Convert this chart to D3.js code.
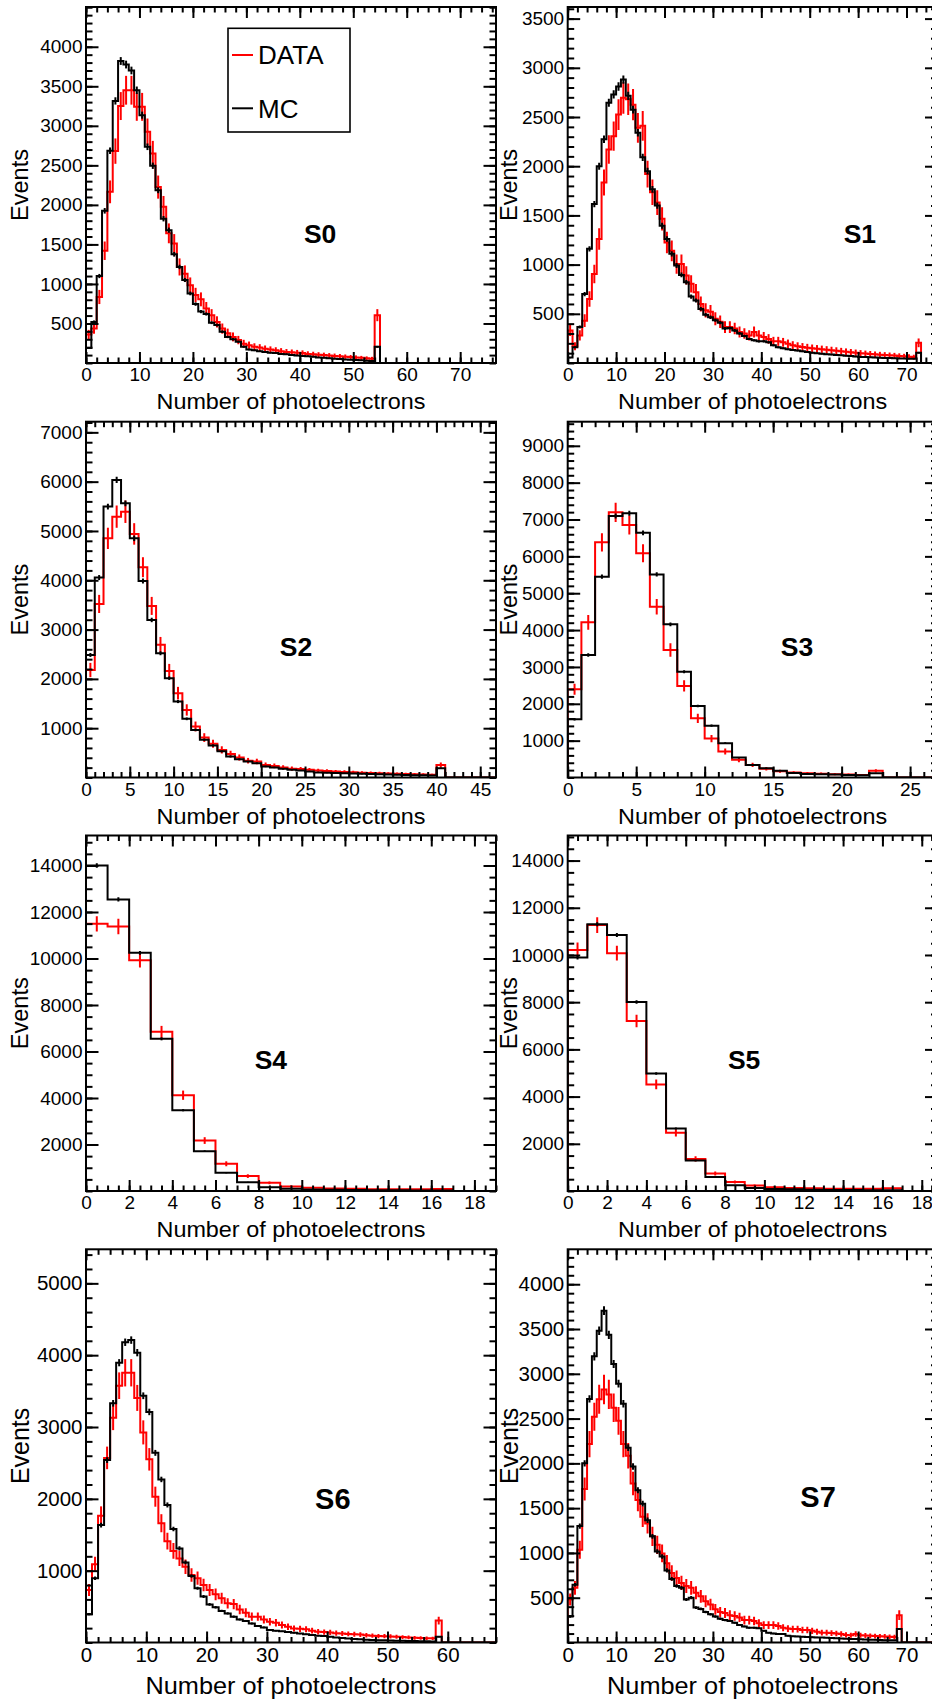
<!DOCTYPE html>
<html><head><meta charset="utf-8">
<script src="https://cdn.jsdelivr.net/npm/d3@7"></script>
<style>
body{margin:0;background:#fff}
svg{display:block}
text{font-family:"Liberation Sans",Arial,Helvetica,sans-serif;fill:#000}
</style>
</head><body>
<svg id="c" width="932" height="1702"></svg>
<script>
// ---------------- DATA (bin width 1 photoelectron, bins start at 0) ----------------
const panelNames = ["S0","S1","S2","S3","S4","S5","S6","S7"];

const dataS0 = [360,435,835,1420,2165,2680,3250,3450,3450,3240,3240,2925,2650,2225,1975,1640,1510,1215,1130,985,860,805,690,605,520,435,375,330,290,245,225,205,195,180,170,160,150,140,135,130,125,115,110,105,100,95,90,85,80,75,70,65,60,55,605];
const mcS0   = [190,520,1100,1925,2685,3315,3820,3775,3700,3450,3135,2735,2495,2185,1825,1680,1375,1215,1050,880,745,650,620,510,480,395,330,300,270,205,170,160,150,140,130,125,115,110,100,95,90,85,80,70,65,60,55,50,45,40,38,35,30,25,205];

const dataS1 = [330,170,280,430,650,905,1260,1835,2170,2305,2525,2695,2680,2625,2390,2410,1920,1735,1630,1465,1225,1140,1005,1005,890,805,720,600,535,520,450,420,365,365,350,315,300,280,315,280,265,245,220,220,210,195,180,170,163,156,150,145,140,135,130,125,120,115,110,105,100,96,92,88,85,82,79,76,72,68,64,60,205];
const mcS1   = [55,160,365,700,1160,1615,2000,2275,2645,2730,2810,2880,2715,2575,2340,2090,1950,1765,1600,1395,1260,1110,990,895,820,675,635,550,490,465,435,410,350,355,330,300,275,245,230,220,220,210,180,160,150,140,133,126,119,112,105,100,95,90,86,82,78,74,70,66,62,60,58,56,54,52,50,48,46,45,44,43,105];

const dataS2 = [2180,3520,4850,5290,5390,4940,4265,3480,2690,2160,1710,1370,1035,810,685,560,475,405,340,325,255,235,205,180,170,155,140,130,120,112,105,98,92,86,80,75,70,65,60,55,255];
const mcS2   = [2485,4055,5495,6035,5560,4850,3985,3195,2520,2015,1540,1190,965,765,650,530,425,370,325,290,225,205,175,155,140,120,100,95,90,85,80,75,70,65,60,55,50,48,45,40,190];

const dataS3 = [2395,4210,6380,7195,6850,6085,4635,3460,2485,1605,1055,705,480,340,235,170,135,115,105,90,80,70,180];
const mcS3   = [1580,3325,5450,7095,7170,6640,5510,4155,2870,1940,1405,930,540,340,250,180,125,95,85,80,70,60,115];

const dataS4 = [11490,11375,9925,6845,4120,2170,1170,640,350,195,135,105,95,80,75,70,90];
const mcS4   = [14000,12540,10245,6545,3475,1715,780,380,165,95,65,50,40,35,30,25,20];

const dataS5 = [10215,11265,10075,7205,4515,2465,1360,740,380,230,160,130,115,100,100,95,115];
const mcS5   = [9890,11305,10850,8010,4980,2645,1290,595,240,130,90,70,55,45,40,35,30];

const dataS6 = [730,1090,1765,2570,3130,3575,3755,3755,3405,2925,2550,2030,1660,1410,1275,1170,1055,940,895,800,730,670,615,545,535,460,415,360,360,320,290,275,245,220,195,190,185,165,150,145,140,130,125,120,115,110,100,95,90,88,85,80,75,70,65,62,60,58,305];
const mcS6   = [395,895,1635,2540,3330,3895,4180,4210,4035,3435,3210,2640,2270,1915,1580,1310,1115,925,755,640,530,490,440,405,360,320,300,265,230,210,175,165,155,145,135,125,115,105,95,90,80,70,62,55,50,45,40,36,33,30,28,26,24,22,20,18,16,15,80];

const dataS7 = [480,610,1035,1715,2215,2520,2715,2825,2770,2620,2475,2215,2085,1775,1590,1405,1330,1185,1090,995,885,775,720,665,630,610,555,515,460,425,370,340,330,305,295,280,250,250,240,215,195,195,195,185,165,155,150,150,140,140,130,120,110,110,105,100,95,85,80,95,80,78,75,72,70,68,65,62,305];
const mcS7   = [290,645,1300,2000,2720,3195,3480,3705,3435,3110,2890,2665,2175,1965,1700,1550,1365,1185,1015,960,805,710,630,610,480,500,390,375,340,315,290,265,250,240,220,195,180,165,165,160,130,110,100,95,95,75,70,68,65,62,60,57,55,52,50,48,45,43,40,38,36,34,32,30,28,26,25,24,150];

// axis ranges
const xMaxes = [76.7, 76.4, 46.8, 27.0, 19.0, 18.8, 68.0, 76.4];
const yMaxes = [4503, 3618, 7216, 9654, 15290, 15062, 5474, 4390];

// tick labels
const xTicksS0 = [0,10,20,30,40,50,60,70];
const xTicksS1 = [0,10,20,30,40,50,60,70];
const xTicksS2 = [0,5,10,15,20,25,30,35,40,45];
const xTicksS3 = [0,5,10,15,20,25];
const xTicksS4 = [0,2,4,6,8,10,12,14,16,18];
const xTicksS5 = [0,2,4,6,8,10,12,14,16,18];
const xTicksS6 = [0,10,20,30,40,50,60];
const xTicksS7 = [0,10,20,30,40,50,60,70];
const yTicksS0 = [500,1000,1500,2000,2500,3000,3500,4000];
const yTicksS1 = [500,1000,1500,2000,2500,3000,3500];
const yTicksS2 = [1000,2000,3000,4000,5000,6000,7000];
const yTicksS3 = [1000,2000,3000,4000,5000,6000,7000,8000,9000];
const yTicksS4 = [2000,4000,6000,8000,10000,12000,14000];
const yTicksS5 = [2000,4000,6000,8000,10000,12000,14000];
const yTicksS6 = [1000,2000,3000,4000,5000];
const yTicksS7 = [500,1000,1500,2000,2500,3000,3500,4000];
const xMinorSteps = [2,2,1,1,0.5,0.5,2,2];
const yMinorSteps = [100,100,200,200,500,500,200,100];

const xTitle = "Number of photoelectrons";
const yTitle = "Events";
const legendLabels = ["DATA","MC"];

// ---------------- LAYOUT ----------------
const colX = [[86,496],[567.7,937.5]];
const rowY = [[7,363],[421.7,777.5],[835.5,1191],[1249.3,1642.5]];
const labelPos = [[0.571,0.635],[0.790,0.635],[0.512,0.633],[0.620,0.633],[0.451,0.631],[0.477,0.631],[0.602,0.633],[0.677,0.630]];
const RED = "#ff0000";

const allData = [dataS0,dataS1,dataS2,dataS3,dataS4,dataS5,dataS6,dataS7];
const allMC = [mcS0,mcS1,mcS2,mcS3,mcS4,mcS5,mcS6,mcS7];
const allXT = [xTicksS0,xTicksS1,xTicksS2,xTicksS3,xTicksS4,xTicksS5,xTicksS6,xTicksS7];
const allYT = [yTicksS0,yTicksS1,yTicksS2,yTicksS3,yTicksS4,yTicksS5,yTicksS6,yTicksS7];

const svg = d3.select("#c");
svg.append("rect").attr("width",932).attr("height",1702).attr("fill","#fff");
const defs = svg.append("defs");

panelNames.forEach((name,i)=>{
  const col = i%2, row = Math.floor(i/2);
  const [x0,x1] = colX[col], [yt,yb] = rowY[row];
  const big = row===3;
  const tickFont = big?20.5:19;
  const titleFont = big?24.5:22.6;
  const titleLen = big?291:269;
  const xMax = xMaxes[i], yMax = yMaxes[i];
  const x = d3.scaleLinear().domain([0,xMax]).range([x0,x1]);
  const y = d3.scaleLinear().domain([0,yMax]).range([yb,yt]);
  const g = svg.append("g");

  defs.append("clipPath").attr("id","clip"+i).append("rect")
    .attr("x",x0).attr("y",yt).attr("width",x1-x0).attr("height",yb-yt);
  const plot = g.append("g").attr("clip-path",`url(#clip${i})`);

  const line = d3.line().x(d=>x(d[0])).y(d=>y(d[1]));
  function stepPts(vals){
    const pts=[[0,0]];
    vals.forEach((v,k)=>{pts.push([k,v]);pts.push([k+1,v]);});
    pts.push([vals.length,0]);pts.push([xMax,0]);
    return pts;
  }
  function drawHist(vals,color,errScale){
    plot.append("path").attr("d",line(stepPts(vals)))
      .attr("fill","none").attr("stroke",color).attr("stroke-width",2).attr("stroke-linejoin","miter");
    plot.append("g").selectAll("line").data(vals).join("line")
      .attr("x1",(d,k)=>x(k+0.5)).attr("x2",(d,k)=>x(k+0.5))
      .attr("y1",d=>y(d+errScale*Math.sqrt(d))).attr("y2",d=>y(Math.max(0,d-errScale*Math.sqrt(d))))
      .attr("stroke",color).attr("stroke-width",2);
  }
  drawHist(allData[i],RED,3.1);
  drawHist(allMC[i],"#000",0.8);

  // axes (ROOT style: ticks inside the frame)
  const yMinor = d3.range(0,yMax,yMinorSteps[i]);
  const xMinor = d3.range(0,xMax+1e-9,xMinorSteps[i]);
  function style(sel,fs){
    sel.select(".domain").remove();
    sel.selectAll("line").attr("stroke","#000").attr("stroke-width",2);
    sel.selectAll("text").attr("font-size",fs).attr("font-family","Liberation Sans, Arial, sans-serif").attr("fill","#000");
    sel.attr("font-size",null).attr("font-family",null);
  }
  const fmt = d3.format("d");
  g.append("g").attr("transform",`translate(${x0},0)`)
    .call(d3.axisLeft(y).tickValues(yMinor).tickSizeInner(-6.5).tickSizeOuter(0).tickFormat("")).call(s=>style(s,tickFont));
  g.append("g").attr("transform",`translate(${x0},0)`)
    .call(d3.axisLeft(y).tickValues(allYT[i]).tickSizeInner(-12.5).tickSizeOuter(0).tickPadding(3.5).tickFormat(fmt)).call(s=>style(s,tickFont));
  g.append("g").attr("transform",`translate(${x1},0)`)
    .call(d3.axisRight(y).tickValues(yMinor).tickSizeInner(-6.5).tickSizeOuter(0).tickFormat("")).call(s=>style(s,tickFont));
  g.append("g").attr("transform",`translate(${x1},0)`)
    .call(d3.axisRight(y).tickValues(allYT[i]).tickSizeInner(-12.5).tickSizeOuter(0).tickFormat("")).call(s=>style(s,tickFont));
  g.append("g").attr("transform",`translate(0,${yb})`)
    .call(d3.axisBottom(x).tickValues(xMinor).tickSizeInner(-5.5).tickSizeOuter(0).tickFormat("")).call(s=>style(s,tickFont));
  g.append("g").attr("transform",`translate(0,${yb})`)
    .call(d3.axisBottom(x).tickValues(allXT[i]).tickSizeInner(-11).tickSizeOuter(0).tickPadding(5).tickFormat(fmt)).call(s=>style(s,tickFont));
  g.append("g").attr("transform",`translate(0,${yt})`)
    .call(d3.axisTop(x).tickValues(xMinor).tickSizeInner(-5.5).tickSizeOuter(0).tickFormat("")).call(s=>style(s,tickFont));
  g.append("g").attr("transform",`translate(0,${yt})`)
    .call(d3.axisTop(x).tickValues(allXT[i]).tickSizeInner(-11).tickSizeOuter(0).tickFormat("")).call(s=>style(s,tickFont));

  // frame
  g.append("rect").attr("x",x0).attr("y",yt).attr("width",x1-x0).attr("height",yb-yt)
    .attr("fill","none").attr("stroke","#000").attr("stroke-width",2);

  // titles
  g.append("text").attr("x",(x0+x1)/2).attr("y",yb+(big?51:46))
    .attr("text-anchor","middle").attr("font-size",titleFont)
    .attr("textLength",titleLen).attr("lengthAdjust","spacingAndGlyphs").text(xTitle);
  const ex = col===0?20:508.5;
  g.append("text").attr("transform",`translate(${ex},${(yt+yb)/2}) rotate(-90)`)
    .attr("text-anchor","middle").attr("dy","0.36em").attr("font-size",big?25:23.5).text(yTitle);

  // station label
  const [fx,fy] = labelPos[i];
  g.append("text").attr("x",x0+fx*(x1-x0)).attr("y",yt+fy*(yb-yt)).attr("dy","0.36em")
    .attr("text-anchor","middle").attr("font-weight","bold").attr("font-size",big?29:26.5).text(name);

  // legend (first panel only)
  if(i===0){
    const lg = g.append("g");
    lg.append("rect").attr("x",228).attr("y",28.3).attr("width",122).attr("height",103.7)
      .attr("fill","#fff").attr("stroke","#000").attr("stroke-width",1.6);
    [[RED,55],["#000",108.3]].forEach(([c,yy],k)=>{
      lg.append("line").attr("x1",232).attr("x2",253).attr("y1",yy).attr("y2",yy).attr("stroke",c).attr("stroke-width",2);
      lg.append("text").attr("x",258).attr("y",yy).attr("dy","0.36em").attr("font-size",26).text(legendLabels[k]);
    });
  }
});
</script>
</body></html>
